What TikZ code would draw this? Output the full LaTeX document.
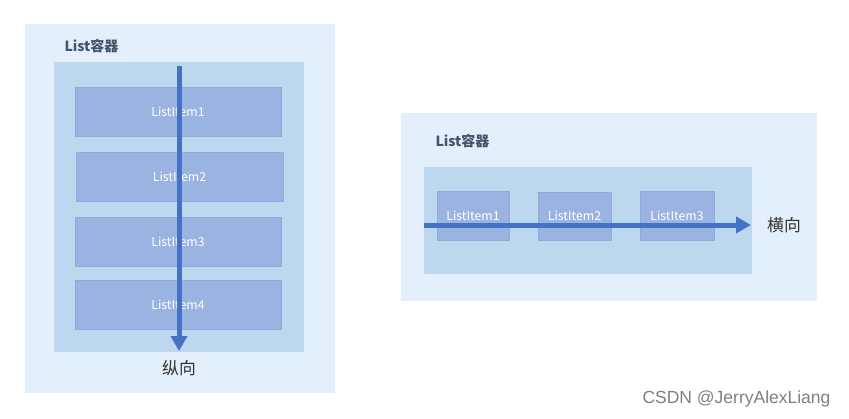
\documentclass[tikz,border=0pt]{standalone}
\usepackage{fontspec}
\setmainfont{Noto Sans CJK SC}
\newfontfamily\markfont{Liberation Sans}
\usetikzlibrary{arrows.meta}

\definecolor{outerbg}{HTML}{E3EFFB}
\definecolor{innerbg}{HTML}{BDD7EE}
\definecolor{itembg}{HTML}{9AB3E0}
\definecolor{itemline}{HTML}{8EAADB}
\definecolor{flowblue}{HTML}{4472C4}
\definecolor{titlegray}{HTML}{44546A}

\begin{document}
\begin{tikzpicture}[x=1pt, y=-1pt, >={Triangle[length=15pt,width=16pt]},
	box/.style={inner sep=0pt, draw=none},
	outerbox/.style={box, fill=outerbg},
	innerbox/.style={box, fill=innerbg},
	item/.style={box, fill=itembg, draw=itemline, text=white, font=\fontsize{12.3}{14}\selectfont},
	boxtitle/.style={anchor=west, text=titlegray, font=\fontsize{14}{16}\selectfont\bfseries},
	dirlabel/.style={text=black!80, font=\fontsize{16.8}{19}\selectfont},
	flow/.style={->, draw=flowblue, line width=5pt}]
	\useasboundingbox (0,0) rectangle (849,418);

	% Nodes {vertical list}
	\node [outerbox, minimum width=310pt, minimum height=369pt] (vouter) at (180,208.5) {};
	\node [innerbox, minimum width=250pt, minimum height=290pt] (vinner) at (179,207) {};
	\node [boxtitle] (vtitle) at (61,46) {List容器};
	\node [item, minimum width=206pt, minimum height=49pt] (vitem1) at (178,111.5) {ListItem1};
	\node [item, minimum width=207pt, minimum height=49pt] (vitem2) at (179.5,176.5) {ListItem2};
	\node [item, minimum width=206pt, minimum height=49pt] (vitem3) at (178,241.5) {ListItem3};
	\node [item, minimum width=206pt, minimum height=49pt] (vitem4) at (178,304.5) {ListItem4};
	\node [dirlabel] (vlabel) at (179,368) {纵向};
	\coordinate (vstart) at (179,66);
	\coordinate (vend) at (179,351);

	% Nodes {horizontal list}
	\node [outerbox, minimum width=416pt, minimum height=188pt] (houter) at (609,207) {};
	\node [innerbox, minimum width=328pt, minimum height=107pt] (hinner) at (588,220.5) {};
	\node [boxtitle] (htitle) at (432,141) {List容器};
	\node [item, minimum width=72pt, minimum height=49pt] (hitem1) at (473,215.5) {ListItem1};
	\node [item, minimum width=73pt, minimum height=48pt] (hitem2) at (574.5,216) {ListItem2};
	\node [item, minimum width=74pt, minimum height=49pt] (hitem3) at (677,215.5) {ListItem3};
	\node [dirlabel] (hlabel) at (784,225) {横向};
	\coordinate (hstart) at (424,225);
	\coordinate (hend) at (751,225);

	% watermark
	\node [anchor=east, text=black!50, font=\markfont\fontsize{17.5}{20}\selectfont] (mark) at (834,399) {CSDN @JerryAlexLiang};

	% Paths
	\draw [flow] (vstart) -- (vend);
	\draw [flow] (hstart) -- (hend);
\end{tikzpicture}
\end{document}
